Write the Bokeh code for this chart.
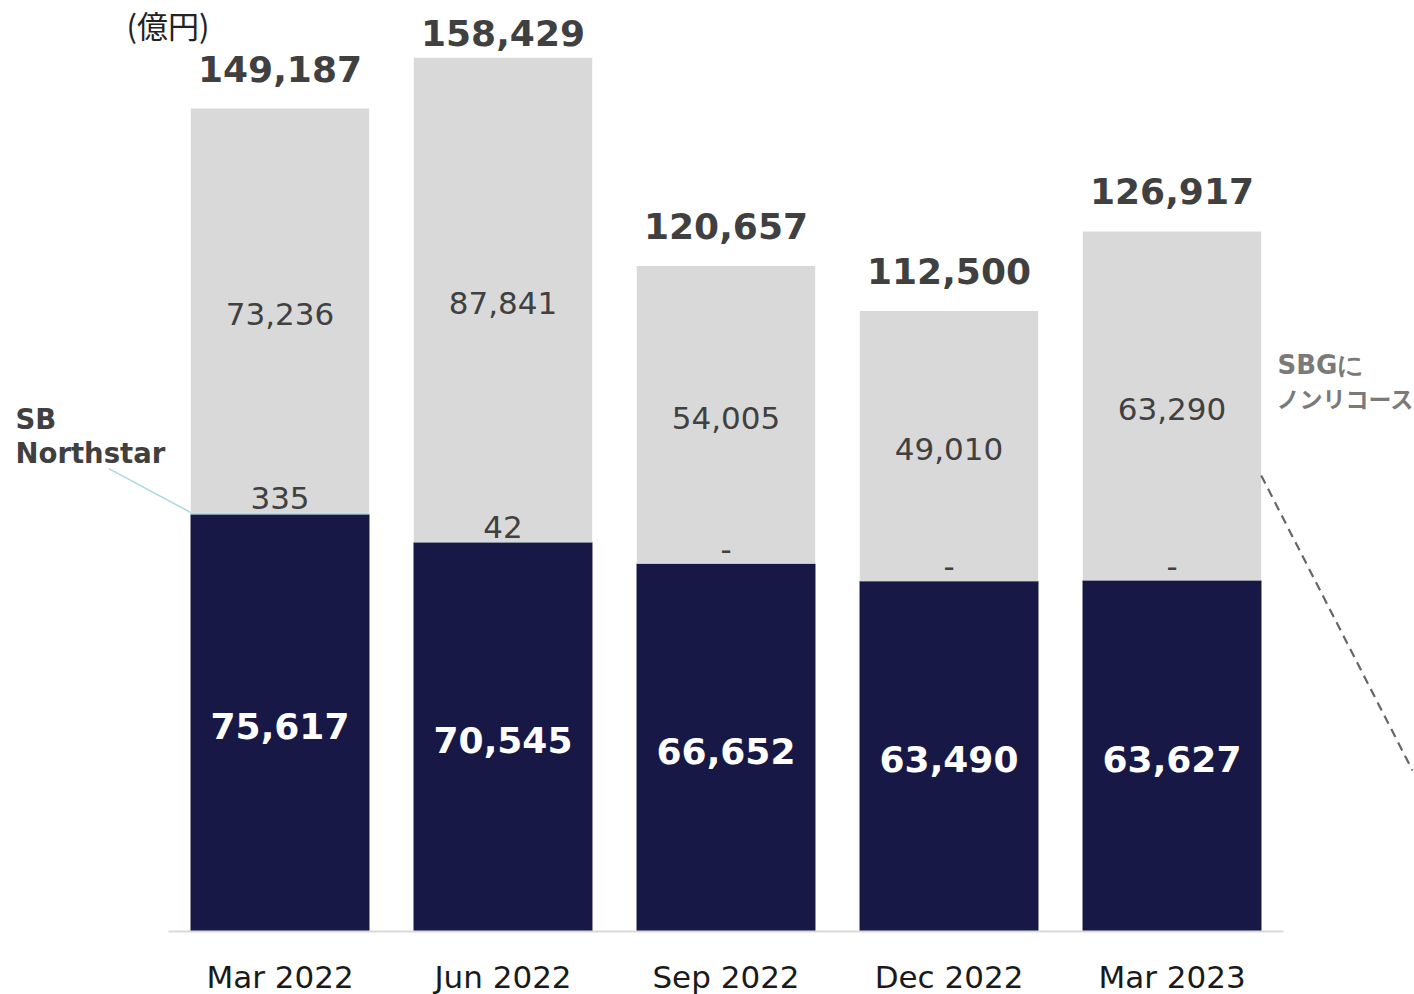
from bokeh.plotting import figure
from bokeh.models import Range1d
from bokeh.core.properties import value
from bokeh.embed import file_html
from bokeh.resources import INLINE
import numpy as np

# ---- data ----
categories = ["Mar 2022", "Jun 2022", "Sep 2022", "Dec 2022", "Mar 2023"]
sbg_values = [75617, 70545, 66652, 63490, 63627]      # dark navy segment
northstar = [335, 42, 0, 0, 0]                          # SB Northstar
nonrecourse = [73236, 87841, 54005, 49010, 63290]       # SBG non-recourse (grey)
totals = [149187, 158429, 120657, 112500, 126917]

# ---- layout ----
W, H = 1414, 994
LEFT_PX = 168          # x of category 0 start
CAT_PX = 223           # pixels per category
BASE_PX = 931          # y (from top) of the zero line
UPP = 181.3            # data units per pixel

x_start = -LEFT_PX / CAT_PX
x_end = (W - LEFT_PX) / CAT_PX
y_start = -(H - BASE_PX) * UPP
y_end = BASE_PX * UPP

def px(d):
    return d * UPP

def xpx(page_x):
    return (page_x - LEFT_PX) / CAT_PX

def ypx(page_y):
    return (BASE_PX - page_y) * UPP

xs = np.arange(len(categories)) + 0.5
dark = np.array(sbg_values, dtype=float)
ns = np.array(northstar, dtype=float)
grey = np.array(nonrecourse, dtype=float)
tot = np.array(totals, dtype=float)
ns_top = dark + ns

NAVY = "#181846"
GREY = "#d9d9d9"
CYAN = "#a9d8df"
TXT = "#404040"

p = figure(width=W, height=H, x_range=Range1d(x_start, x_end), y_range=Range1d(y_start, y_end),
           output_backend="svg", toolbar_location=None, x_axis_location=None, y_axis_location=None,
           min_border=0, min_border_left=0, min_border_right=0, min_border_top=0, min_border_bottom=0,
           outline_line_color=None, background_fill_color="white", border_fill_color="white")
p.grid.visible = False

BW = 0.8
p.vbar(x=xs, width=BW, bottom=0, top=dark, fill_color=NAVY, line_color=NAVY, line_width=0.5)
p.vbar(x=xs, width=BW, bottom=dark, top=ns_top, fill_color=CYAN, line_color=None)
p.vbar(x=xs, width=BW, bottom=ns_top, top=ns_top + grey, fill_color=GREY, line_color=None)

# baseline
p.segment(x0=[0], x1=[len(categories)], y0=[0], y1=[0], line_color="#d9d9d9", line_width=2)

# category labels
p.text(x=xs, y=[-px(45)] * len(xs), text=categories, text_align="center", text_baseline="middle",
       text_font=value("DejaVu Sans"), text_font_size="31px", text_color="#1a1a1a")

# total labels (bold) above bars
tot_y = np.minimum(tot + px(40), y_end - px(32))
p.text(x=xs, y=tot_y, text=[f"{v:,}" for v in totals], text_align="center", text_baseline="middle",
       text_font=value("DejaVu Sans"), text_font_style="bold", text_font_size="36px", text_color=TXT)

# grey segment labels
p.text(x=xs, y=ns_top + grey / 2 - px(3), text=[f"{v:,}" for v in nonrecourse], text_align="center",
       text_baseline="middle", text_font=value("DejaVu Sans"), text_font_size="31px", text_color=TXT)

# northstar labels
p.text(x=xs, y=ns_top + px(15), text=[f"{v:,}" if v else "-" for v in northstar], text_align="center",
       text_baseline="middle", text_font=value("DejaVu Sans"), text_font_size="31px", text_color=TXT)

# dark segment labels
p.text(x=xs, y=dark / 2 - px(3), text=[f"{v:,}" for v in sbg_values], text_align="center",
       text_baseline="middle", text_font=value("DejaVu Sans"), text_font_style="bold",
       text_font_size="36px", text_color="white")

# unit label
p.text(x=[xpx(126)], y=[ypx(24)], text=["(億円)"], text_align="left", text_baseline="middle",
       text_font=value("Noto Sans CJK JP"), text_font_size="31px", text_color="#222222")

# SB Northstar callout
p.text(x=[xpx(15), xpx(15)], y=[ypx(418), ypx(452)], text=["SB", "Northstar"], text_align="left",
       text_baseline="middle", text_font=value("DejaVu Sans"), text_font_style="bold",
       text_font_size="27.5px", text_color=TXT)
bar0_left = xs[0] - BW / 2
p.segment(x0=[bar0_left - 82 / CAT_PX], y0=[ns_top[0] + px(44)], x1=[bar0_left], y1=[ns_top[0]],
          line_color=CYAN, line_width=1.5)

# SBG non-recourse callout
p.text(x=[xpx(1277)], y=[ypx(364)], text=["SBGに"], text_align="left",
       text_baseline="middle", text_font=value("DejaVu Sans"), text_font_style="bold",
       text_font_size="26px", text_color="#7a7a7a")
p.text(x=[xpx(1276)], y=[ypx(397)], text=["ノンリコース"], text_align="left",
       text_baseline="middle", text_font=value("Noto Sans CJK JP"), text_font_style="bold",
       text_font_size="23px", text_color="#7a7a7a")
barN_right = xs[-1] + BW / 2
p.segment(x0=[barN_right], y0=[ypx(475)], x1=[xpx(1412)], y1=[ypx(770)],
          line_color="#666666", line_width=2.2, line_dash="9 6")

open("out.html", "w").write(file_html(p, INLINE))
